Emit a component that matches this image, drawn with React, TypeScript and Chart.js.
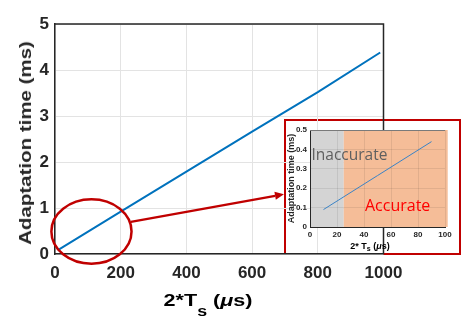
import React, { useEffect, useRef } from "react";
import { Chart, registerables } from "chart.js";
Chart.register(...registerables);

// ---- main chart data ----
const mainX = [10, 200, 400, 600, 800, 990];
const mainY = [0.09, 0.92, 1.79, 2.66, 3.52, 4.38];
const mainXTicks = [0, 200, 400, 600, 800, 1000];
const mainYTicks = [0, 1, 2, 3, 4, 5];

// ---- inset data ----
const insetX = [10, 50, 90];
const insetY = [0.09, 0.265, 0.44];
const insetXTicks = [0, 20, 40, 60, 80, 100];
const insetYTicks = [0, 0.1, 0.2, 0.3, 0.4, 0.5];
const inaccurateRange = [0, 25];
const accurateRange = [25, 102];
const inaccurateLabel = "Inaccurate";
const accurateLabel = "Accurate";
const inaccurateAt = [1.1, 0.366];
const accurateAt = [40.7, 0.105];

// ---- annotations (data units of main chart) ----
const ellipseCenter = [111, 0.49];
const ellipseRadii = [122, 0.7];
const arrowFrom = [231, 0.7];
const arrowTo = [697, 1.3];

const yTitle = "Adaptation time (ms)";
const FONT = "'Liberation Sans', Arial, Helvetica, sans-serif";
const INK = "#262626";
const RED = "#c00000";
const BLUE = "#0072BD";

export default function App() {
  const mainRef = useRef<HTMLCanvasElement>(null);
  const insetRef = useRef<HTMLCanvasElement>(null);

  useEffect(() => {
    const annot = {
      id: "annot",
      beforeDatasetsDraw(chart: any) {
        const { ctx, chartArea: a } = chart;
        ctx.save();
        ctx.strokeStyle = INK;
        ctx.lineWidth = 1.5;
        ctx.beginPath();
        ctx.moveTo(a.left, a.top);
        ctx.lineTo(a.right, a.top);
        ctx.lineTo(a.right, a.bottom);
        ctx.stroke();
        ctx.restore();
      },
      afterDraw(chart: any) {
        const { ctx } = chart;
        const xs = chart.scales.x;
        const ys = chart.scales.y;
        const cx = xs.getPixelForValue(ellipseCenter[0]);
        const cy = ys.getPixelForValue(ellipseCenter[1]);
        const rx = xs.getPixelForValue(ellipseCenter[0] + ellipseRadii[0]) - cx;
        const ry = cy - ys.getPixelForValue(ellipseCenter[1] + ellipseRadii[1]);
        ctx.save();
        ctx.strokeStyle = RED;
        ctx.fillStyle = RED;
        ctx.lineWidth = 2.5;
        ctx.beginPath();
        ctx.ellipse(cx, cy, rx, ry, 0, 0, Math.PI * 2);
        ctx.stroke();
        const x1 = xs.getPixelForValue(arrowFrom[0]);
        const y1 = ys.getPixelForValue(arrowFrom[1]);
        const x2 = xs.getPixelForValue(arrowTo[0]);
        const y2 = ys.getPixelForValue(arrowTo[1]);
        const ang = Math.atan2(y2 - y1, x2 - x1);
        const hl = 9, hw = 4;
        const bx = x2 - hl * Math.cos(ang);
        const by = y2 - hl * Math.sin(ang);
        ctx.lineWidth = 2.2;
        ctx.beginPath();
        ctx.moveTo(x1, y1);
        ctx.lineTo(bx, by);
        ctx.stroke();
        ctx.beginPath();
        ctx.moveTo(x2, y2);
        ctx.lineTo(bx + hw * Math.sin(ang), by - hw * Math.cos(ang));
        ctx.lineTo(bx - hw * Math.sin(ang), by + hw * Math.cos(ang));
        ctx.closePath();
        ctx.fill();
        ctx.restore();
      },
    };

    const tickFont = { family: FONT, size: 17, weight: "bold" as const };
    const main = new Chart(mainRef.current!, {
      type: "scatter",
      data: {
        datasets: [
          {
            data: mainX.map((x, i) => ({ x, y: mainY[i] })),
            showLine: true,
            borderColor: BLUE,
            borderWidth: 2,
            pointRadius: 0,
            fill: false,
          },
        ],
      },
      options: {
        animation: false,
        responsive: false,
        maintainAspectRatio: false,
        layout: { padding: { left: 0, top: 24, right: 79.5, bottom: 0 } },
        plugins: { legend: { display: false }, tooltip: { enabled: false } },
        scales: {
          x: {
            type: "linear",
            min: 0,
            max: 1000,
            afterBuildTicks: (s: any) => {
              s.ticks = mainXTicks.map((v) => ({ value: v }));
            },
            afterFit: (s: any) => {
              s.height = 74;
            },
            grid: { color: "#e3e3e3", drawTicks: false, lineWidth: 1 },
            border: { color: INK, width: 1.5 },
            ticks: {
              padding: 9,
              color: INK,
              font: tickFont,
              maxRotation: 0,
              autoSkip: false,
              callback: (v: any) => String(v),
            },
          },
          y: {
            type: "linear",
            min: 0,
            max: 5,
            afterBuildTicks: (s: any) => {
              s.ticks = mainYTicks.map((v) => ({ value: v }));
            },
            afterFit: (s: any) => {
              s.width = 55;
            },
            grid: { color: "#e3e3e3", drawTicks: false, lineWidth: 1 },
            border: { color: INK, width: 1.5 },
            ticks: {
              padding: 6,
              color: INK,
              font: tickFont,
              autoSkip: false,
              callback: (v: any) => String(v),
            },
          },
        },
      },
      plugins: [annot],
    });

    const regions = {
      id: "regions",
      beforeDraw(chart: any) {
        const { ctx, chartArea: a } = chart;
        const xs = chart.scales.x;
        ctx.save();
        ctx.fillStyle = "#d4d4d4";
        const g0 = xs.getPixelForValue(inaccurateRange[0]);
        const g1 = xs.getPixelForValue(inaccurateRange[1]);
        ctx.fillRect(g0, a.top, g1 - g0, a.bottom - a.top);
        ctx.fillStyle = "#f5bd98";
        const o0 = xs.getPixelForValue(accurateRange[0]);
        const o1 = xs.getPixelForValue(accurateRange[1]);
        ctx.fillRect(o0, a.top, o1 - o0, a.bottom - a.top);
        ctx.restore();
      },
      afterDatasetsDraw(chart: any) {
        const { ctx, chartArea: a } = chart;
        const xs = chart.scales.x;
        const ys = chart.scales.y;
        ctx.save();
        ctx.strokeStyle = "#7a7a7a";
        ctx.lineWidth = 1;
        ctx.beginPath();
        ctx.moveTo(a.left, a.top + 0.5);
        ctx.lineTo(a.right, a.top + 0.5);
        ctx.stroke();
        ctx.textBaseline = "middle";
        ctx.textAlign = "left";
        ctx.font = "15.5px 'Open Sans', 'Noto Sans', sans-serif";
        ctx.fillStyle = "#5f5f5f";
        ctx.fillText(inaccurateLabel, xs.getPixelForValue(inaccurateAt[0]), ys.getPixelForValue(inaccurateAt[1]));
        ctx.font = "16px 'Open Sans', 'Noto Sans', sans-serif";
        ctx.fillStyle = "#ff0000";
        ctx.fillText(accurateLabel, xs.getPixelForValue(accurateAt[0]), ys.getPixelForValue(accurateAt[1]));
        ctx.restore();
      },
    };

    const smallFont = { family: FONT, size: 8, weight: "bold" as const };
    const inset = new Chart(insetRef.current!, {
      type: "scatter",
      data: {
        datasets: [
          {
            data: insetX.map((x, i) => ({ x, y: insetY[i] })),
            showLine: true,
            borderColor: "#3a83c6",
            borderWidth: 1,
            pointRadius: 0,
            fill: false,
          },
        ],
      },
      options: {
        animation: false,
        responsive: false,
        maintainAspectRatio: false,
        layout: { padding: { left: 0, top: 11, right: 16, bottom: 0 } },
        plugins: { legend: { display: false }, tooltip: { enabled: false } },
        scales: {
          x: {
            type: "linear",
            min: 0,
            max: 100,
            afterBuildTicks: (s: any) => {
              s.ticks = insetXTicks.map((v) => ({ value: v }));
            },
            afterFit: (s: any) => {
              s.height = 27;
            },
            grid: { color: "rgba(0,0,0,0.08)", drawTicks: false },
            border: { color: INK, width: 1 },
            ticks: {
              padding: 3,
              color: INK,
              font: smallFont,
              maxRotation: 0,
              autoSkip: false,
              callback: (v: any) => String(v),
            },
          },
          y: {
            type: "linear",
            min: 0,
            max: 0.5,
            afterBuildTicks: (s: any) => {
              s.ticks = insetYTicks.map((v) => ({ value: v }));
            },
            afterFit: (s: any) => {
              s.width = 26;
            },
            grid: { color: "rgba(0,0,0,0.08)", drawTicks: false },
            border: { color: INK, width: 1 },
            ticks: {
              padding: 3,
              color: INK,
              font: smallFont,
              autoSkip: false,
              callback: (v: any) => String(Math.round(v * 10) / 10),
            },
            title: {
              display: true,
              text: yTitle,
              color: INK,
              font: { family: FONT, size: 9, weight: "bold" },
              padding: { top: 2, bottom: 0 },
            },
          },
        },
      },
      plugins: [regions],
    });

    return () => {
      main.destroy();
      inset.destroy();
    };
  }, []);

  return (
    <div
      style={{
        position: "fixed",
        left: 0,
        top: 0,
        width: 463,
        height: 328,
        background: "#ffffff",
        overflow: "hidden",
        fontFamily: FONT,
      }}
    >
      <div
        style={{
          position: "absolute",
          left: 284,
          top: 119,
          width: 177,
          height: 136,
          border: `2px solid ${RED}`,
          boxSizing: "border-box",
        }}
      />
      <canvas
        ref={mainRef}
        width={463}
        height={328}
        style={{ position: "absolute", left: 0, top: 0, width: 463, height: 328 }}
      />
      <canvas
        ref={insetRef}
        width={177}
        height={135}
        style={{ position: "absolute", left: 284, top: 119, width: 177, height: 135 }}
      />
      <div
        style={{
          position: "absolute",
          left: 25.7,
          top: 143,
          transform: "translate(-50%, -50%) rotate(-90deg) scaleX(1.28)",
          whiteSpace: "nowrap",
          fontWeight: "bold",
          fontSize: 16,
          lineHeight: 1,
          color: INK,
        }}
      >
        {yTitle}
      </div>
      <div
        style={{
          position: "absolute",
          left: 207.5,
          top: 291.5,
          transform: "translateX(-50%) scaleX(1.27)",
          whiteSpace: "nowrap",
          fontWeight: "bold",
          fontSize: 17,
          lineHeight: 1,
          color: "#000",
        }}
      >
        2*T
        <span style={{ position: "relative", top: 10, fontSize: 14 }}>s</span>{" "}
        (<i>μ</i>s)
      </div>
      <div
        style={{
          position: "absolute",
          left: 370,
          top: 242,
          transform: "translateX(-50%)",
          whiteSpace: "nowrap",
          fontWeight: "bold",
          fontSize: 9,
          lineHeight: 1,
          color: "#000",
        }}
      >
        2* T
        <span style={{ position: "relative", top: 2, fontSize: 7 }}>s</span>{" "}
        (<i>μ</i>s)
      </div>
    </div>
  );
}
